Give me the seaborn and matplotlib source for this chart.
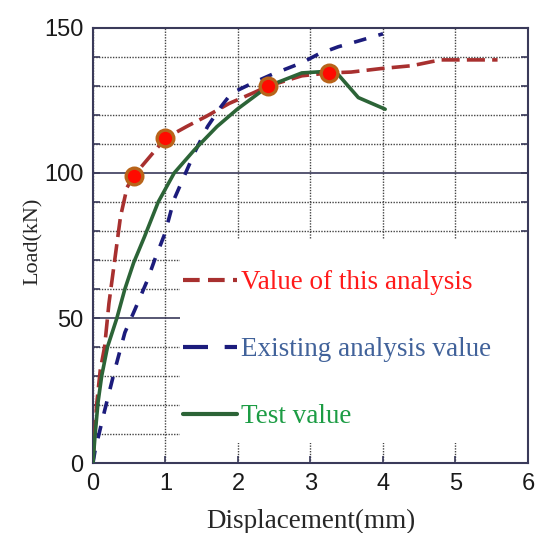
import numpy as np
import pandas as pd
import matplotlib
matplotlib.use("Agg")
import matplotlib.pyplot as plt
from matplotlib.patches import Rectangle
from matplotlib.lines import Line2D
from matplotlib.ticker import MultipleLocator
import seaborn as sns

# values
this_x = [0, 0.05, 0.1, 0.16, 0.22, 0.3, 0.38, 0.47, 0.56, 0.78, 1.0, 1.29, 1.56,
          1.88, 2.2, 2.42, 2.88, 3.25, 3.56, 3.97, 4.4, 4.79, 5.0, 5.58]
this_y = [0, 20, 32, 40, 55, 70, 85, 95, 99, 105.5, 112, 116, 119.5,
          124, 127.5, 130, 133.5, 134.5, 134.8, 136, 137, 139, 139, 139]

exist_x = [0, 0.03, 0.16, 0.30, 0.44, 0.58, 0.75, 0.85, 0.99, 1.12, 1.26, 1.40,
           1.58, 1.77, 1.91, 2.2, 2.47, 2.88, 3.11, 3.38, 3.66, 4.0]
exist_y = [0, 4.5, 18, 32, 45, 53, 63, 70, 79, 91, 99, 107,
           116, 123, 127.5, 131, 134, 138, 141, 143.5, 145.5, 148]

test_x = [0, 0.03, 0.07, 0.12, 0.2, 0.33, 0.44, 0.56, 0.71, 0.9, 1.12, 1.4,
          1.71, 1.99, 2.42, 2.88, 3.2, 3.38, 3.66, 4.03]
test_y = [0, 10, 21, 30, 40, 50, 60, 69, 78, 90, 100, 108,
          116, 122, 130, 134.5, 135, 134, 126, 122]

point_x = [0.56, 1.0, 2.42, 3.25]
point_y = [99, 112, 130, 134.5]

labels = ["Value of this analysis", "Existing analysis value", "Test value"]

sns.set_style("white")
plt.rcParams["font.family"] = ["Liberation Sans", "DejaVu Sans"]

fig = plt.figure(figsize=(5.39, 5.33), dpi=100)
ax = fig.add_axes([0.1725, 0.1313, 0.8071, 0.8162])

red = "#a8302f"
blue = "#1c1c7c"
green = "#2c6437"

sns.lineplot(x=this_x, y=this_y, ax=ax, sort=False, estimator=None,
             color=red, linewidth=2.6, zorder=3)
ax.lines[-1].set_dashes((5, 2))
sns.lineplot(x=exist_x, y=exist_y, ax=ax, sort=False, estimator=None,
             color=blue, linewidth=2.6, zorder=3)
ax.lines[-1].set_dashes((3.5, 3.5))
sns.lineplot(x=test_x, y=test_y, ax=ax, sort=False, estimator=None,
             color=green, linewidth=2.6, zorder=4)
ax.plot(point_x, point_y, linestyle="none", marker="o", markersize=12,
        markerfacecolor="#ff0a00", markeredgecolor="#b8641a",
        markeredgewidth=2.4, zorder=5)

ax.set_xlim(0, 6)
ax.set_ylim(0, 150)
ax.xaxis.set_major_locator(MultipleLocator(1))
ax.yaxis.set_major_locator(MultipleLocator(50))
ax.yaxis.set_minor_locator(MultipleLocator(10))

# grid: dotted every 10 kN and every mm, solid at the 50 kN steps
ax.set_axisbelow(True)
ax.grid(which="minor", axis="y", linestyle=(0, (1, 1)), color="#444444", linewidth=1)
ax.grid(which="major", axis="y", linestyle="-", color="#3a3a5a", linewidth=1.2)
ax.grid(which="major", axis="x", linestyle=(0, (1, 1)), color="#444444", linewidth=1)

# white box behind the legend hides the grid
ax.add_patch(Rectangle((0.2, 0.046), 0.8, 0.47, transform=ax.transAxes,
                       facecolor="white", edgecolor="none", zorder=1))

for s in ax.spines.values():
    s.set_color("#3a3a5a")
    s.set_linewidth(1.5)

ax.tick_params(which="both", direction="in", left=True, right=True, bottom=True,
               length=5, color="#3a3a5a", width=1.2)
ax.tick_params(which="major", labelsize=17, pad=7, labelcolor="#1a1a1a")

ax.set_xlabel("Displacement(mm)", fontsize=19.5, family=["Liberation Serif"],
              labelpad=10)
ax.set_ylabel("Load(kN)", fontsize=16, family=["Liberation Serif"], labelpad=0)
ax.yaxis.set_label_coords(-0.115, 0.51)

handles = [Line2D([], [], color=red, linewidth=3, dashes=(4, 2)),
           Line2D([], [], color=blue, linewidth=3, dashes=(6, 4)),
           Line2D([], [], color=green, linewidth=3)]
leg = ax.legend(handles, labels, loc="upper left", bbox_to_anchor=(0.181, 0.468),
                frameon=False, handlelength=2.0, handletextpad=0.17,
                labelspacing=1.55, borderaxespad=0,
                labelcolor=["#ff1a1a", "#41629a", "#1c9c44"],
                prop={"family": "Liberation Serif", "size": 19.5})
leg.set_zorder(6)

fig.savefig("out.png", dpi=100)
